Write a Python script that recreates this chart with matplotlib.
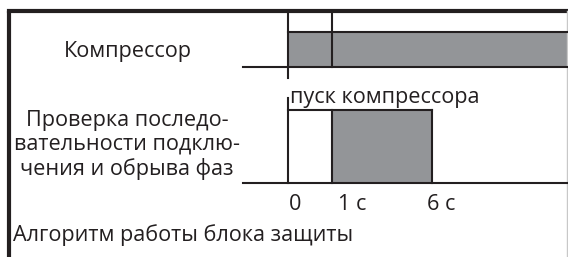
import matplotlib.pyplot as plt

plt.rcParams['font.family'] = ['Open Sans', 'DejaVu Sans']

# =========================
# DATA
# =========================

row_labels = ["Компрессор",
              "Проверка последо-\nвательности подклю-\nчения и обрыва фаз"]
time_labels = ["0", "1 с", "6 с"]
compressor_on = (0, None)      # index into time marks, None = until the end
check_on = (1, 2)              # from 1 с to 6 с
start_note = "пуск компрессора"
caption = "Алгоритм работы блока защиты"

# =========================
# LAYOUT (pixels)
# =========================

W, H = 568, 257
mark_x = [288, 332, 432]
right_x = 567
base_start = 243
row_top = [32, 110]
row_base = [67, 183]

INK = "#231f20"
FILL = "#939598"
FS = 15.6

fig = plt.figure(figsize=(W / 100, H / 100), dpi=100)
ax = fig.add_axes([0, 0, 1, 1])
ax.set_xlim(0, W)
ax.set_ylim(H, 0)
ax.axis("off")

# frame
ax.plot([9, 9], [11, H], color=INK, lw=3.0, solid_capstyle="butt")
ax.plot([9, right_x], [11, 11], color=INK, lw=3.0, solid_capstyle="projecting")
ax.plot([right_x, right_x], [11, H], color="#c8c8c8", lw=1.0)

lw = 1.5

# compressor row
x0 = mark_x[compressor_on[0]]
x1 = right_x if compressor_on[1] is None else mark_x[compressor_on[1]]
ax.fill_between([x0, x1], row_top[0], row_base[0], color=FILL, lw=0)
ax.plot([x0, x1], [row_top[0], row_top[0]], color=INK, lw=lw)
ax.plot([base_start, right_x], [row_base[0], row_base[0]], color=INK, lw=lw)
ax.plot([mark_x[0], mark_x[0]], [11, 78], color=INK, lw=lw)
ax.plot([mark_x[1], mark_x[1]], [11, row_base[0]], color=INK, lw=lw)

# check row
c0, c1 = mark_x[check_on[0]], mark_x[check_on[1]]
ax.fill_between([c0, c1], row_top[1], row_base[1], color=FILL, lw=0)
ax.plot([mark_x[0], c1], [row_top[1], row_top[1]], color=INK, lw=lw)
ax.plot([mark_x[0], mark_x[0]], [98, row_base[1]], color=INK, lw=lw)
ax.plot([c0, c0], [row_top[1], row_base[1]], color=INK, lw=lw)
ax.plot([c1, c1], [row_top[1], row_base[1]], color=INK, lw=lw)
ax.plot([base_start, right_x], [row_base[1], row_base[1]], color=INK, lw=lw)

# texts
ax.text(128, 52, row_labels[0], ha="center", va="center", fontsize=FS, color=INK)
ax.text(127, 145, row_labels[1], ha="center", va="center", fontsize=FS,
        color=INK, multialignment="center", linespacing=1.2)
ax.text(290, 97, start_note, ha="left", va="center", fontsize=FS, color=INK)

label_x = [295, 352, 441]
for lx, t in zip(label_x, time_labels):
    ax.text(lx, 204, t, ha="center", va="center", fontsize=FS, color=INK)

ax.text(13, 235, caption, ha="left", va="center", fontsize=FS, color=INK)

fig.savefig("out.png", dpi=100)
